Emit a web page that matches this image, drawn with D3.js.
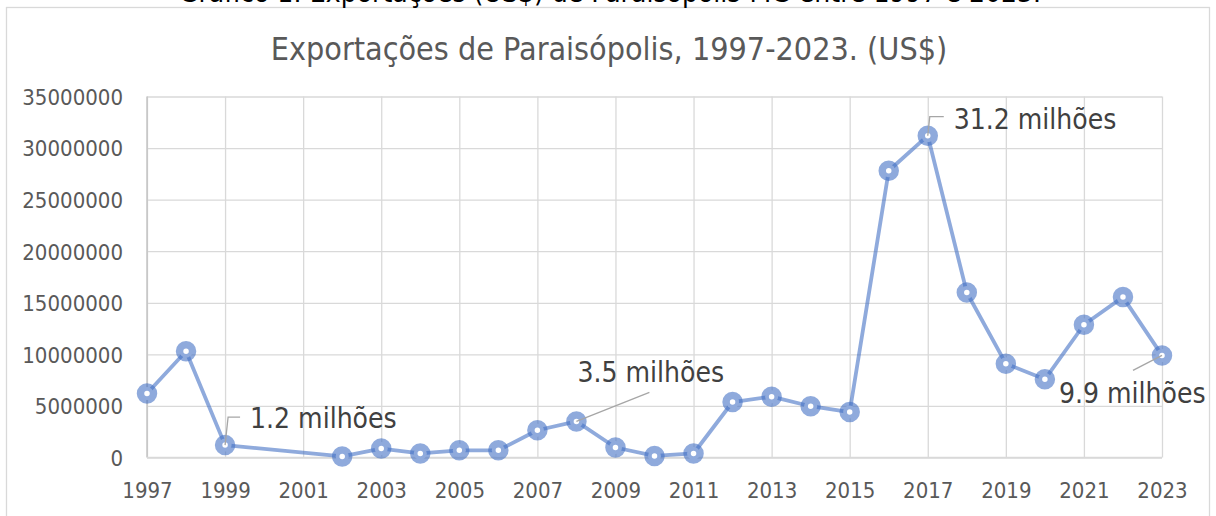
<!DOCTYPE html>
<html>
<head>
<meta charset="utf-8">
<script src="https://cdn.jsdelivr.net/npm/d3@7"></script>
<style>
  body { margin: 0; background: #fff; }
  svg text { font-family: "DejaVu Sans Condensed", "DejaVu Sans", sans-serif; font-stretch: condensed; }
</style>
</head>
<body>
<div id="chart"></div>
<script>
// exportações por ano (US$), 2000 e 2001 sem registro
const years  = [1997, 1998, 1999, 2002, 2003, 2004, 2005, 2006, 2007, 2008, 2009, 2010,
                2011, 2012, 2013, 2014, 2015, 2016, 2017, 2018, 2019, 2020, 2021, 2022, 2023];
const values = [6200000, 10300000, 1200000, 100000, 870000, 390000, 700000, 700000, 2640000,
                3500000, 970000, 150000, 390000, 5380000, 5900000, 4970000, 4410000, 27800000,
                31200000, 16000000, 9100000, 7580000, 12870000, 15550000, 9900000];
const xTicks = [1997, 1999, 2001, 2003, 2005, 2007, 2009, 2011, 2013, 2015, 2017, 2019, 2021, 2023];
const yTicks = [0, 5000000, 10000000, 15000000, 20000000, 25000000, 30000000, 35000000];
const labelYears = [1999, 2008, 2017, 2023];
const labelTexts = ["1.2 milhões", "3.5 milhões", "31.2 milhões", "9.9 milhões"];

const data = years.map((y, i) => ({ year: y, value: values[i] }));

const W = 1216, H = 516;
const svg = d3.select("#chart").append("svg")
  .attr("width", W).attr("height", H);

// frame of the chart object
svg.append("rect")
  .attr("x", 6.5).attr("y", 7.5)
  .attr("width", 1203).attr("height", 520)
  .attr("fill", "#fff").attr("stroke", "#d9d9d9").attr("stroke-width", 1.3);

// document caption, cut at top like the source
svg.append("text")
  .attr("x", 610).attr("y", 2)
  .attr("text-anchor", "middle")
  .style("font-size", "28px")
  .style("fill", "#000")
  .text("Gráfico 1: Exportações (US$) de Paraisópolis-MG entre 1997 e 2023.");

svg.append("text")
  .attr("x", 609).attr("y", 60)
  .attr("text-anchor", "middle")
  .style("font-size", "32px")
  .style("fill", "#595959")
  .text("Exportações de Paraisópolis, 1997-2023. (US$)");

const x = d3.scaleLinear().domain([1997, 2023]).range([147, 1162]);
const y = d3.scaleLinear().domain([0, 35000000]).range([457.5, 96.5]);

// horizontal grid
svg.append("g")
  .attr("transform", "translate(147,0)")
  .call(d3.axisLeft(y).tickValues(yTicks).tickSize(-(1162 - 147)).tickFormat(d3.format("d")))
  .call(g => g.select(".domain").remove())
  .call(g => g.selectAll("line").attr("stroke", "#d9d9d9").attr("stroke-width", 1.3))
  .call(g => g.selectAll("text").attr("x", -24).attr("dy", "0.36em")
    .style("font-size", "22px").style("fill", "#595959").style("font-family", null));

// vertical grid + x labels
svg.append("g")
  .attr("transform", "translate(0,457.5)")
  .call(d3.axisBottom(x).tickValues(xTicks).tickSize(-(457.5 - 96.5)).tickFormat(d3.format("d")))
  .call(g => g.select(".domain").remove())
  .call(g => g.selectAll("line").attr("stroke", "#d9d9d9").attr("stroke-width", 1.3))
  .call(g => g.selectAll("text").attr("y", 40).attr("dy", 0)
    .style("font-size", "22px").style("fill", "#595959").style("font-family", null));

// axis lines
svg.append("line").attr("x1", 147).attr("x2", 147).attr("y1", 96.5).attr("y2", 457.5)
  .attr("stroke", "#bfbfbf").attr("stroke-width", 1.3);
svg.append("line").attr("x1", 147).attr("x2", 1162).attr("y1", 457.5).attr("y2", 457.5)
  .attr("stroke", "#d9d9d9").attr("stroke-width", 1.5);

const blue = "rgba(68,114,196,0.6)";

svg.append("path")
  .datum(data)
  .attr("fill", "none")
  .attr("stroke", blue)
  .attr("stroke-width", 3.8)
  .attr("stroke-linejoin", "round")
  .attr("d", d3.line().x(d => x(d.year)).y(d => y(d.value)));

svg.selectAll("circle.pt")
  .data(data)
  .enter()
  .append("circle")
  .attr("class", "pt")
  .attr("cx", d => x(d.year))
  .attr("cy", d => y(d.value))
  .attr("r", 6.5)
  .attr("fill", "#fff")
  .attr("stroke", blue)
  .attr("stroke-width", 7.5);

// data labels with leader lines (offsets from the point)
const labelStyle = {
  1999: { tx: 25, ty: -17, lead: [[3, -28], [15, -28]] },
  2008: { tx: 1, ty: -39, lead: [[73, -29]] },
  2017: { tx: 26, ty: -7, lead: [[2, -19], [16, -19]] },
  2023: { tx: -103, ty: 48, lead: [[-29, 15]] }
};

labelYears.forEach((yr, i) => {
  const d = data.find(p => p.year === yr);
  const px = x(d.year), py = y(d.value);
  const s = labelStyle[yr];
  const pts = [[px, py]].concat(s.lead.map(o => [px + o[0], py + o[1]]));
  svg.append("path")
    .attr("d", d3.line()(pts))
    .attr("fill", "none")
    .attr("stroke", "#a6a6a6")
    .attr("stroke-width", 1.3);
  svg.append("text")
    .attr("x", px + s.tx).attr("y", py + s.ty)
    .style("font-size", "28px")
    .style("fill", "#404040")
    .text(labelTexts[i]);
});
</script>
</body>
</html>
